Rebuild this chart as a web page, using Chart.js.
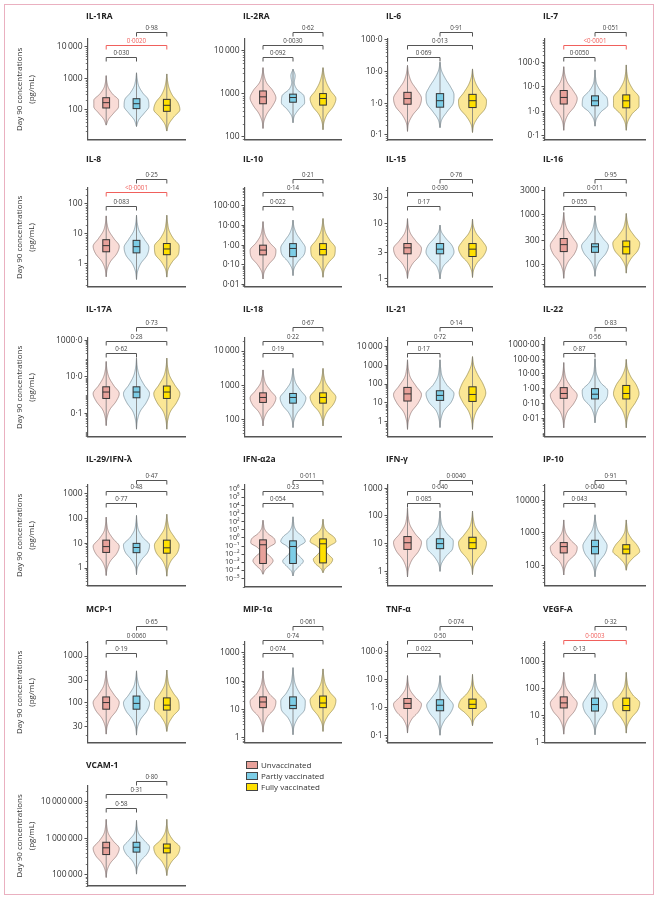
<!DOCTYPE html>
<html><head><meta charset="utf-8">
<script src="https://cdn.jsdelivr.net/npm/chart.js@4.4.1/dist/chart.umd.min.js"></script>
<style>
html,body{margin:0;padding:0;background:#fff;}
#fig{position:relative;width:659px;height:900px;overflow:hidden;font-family:"Open Sans",sans-serif;background:#fff;}
#frame{position:absolute;left:4px;top:4px;width:648px;height:889px;border:1.5px solid #eab0c0;}
canvas{position:absolute;}
.leg{position:absolute;left:246px;font-size:8px;color:#333;height:11px;line-height:11px;white-space:nowrap;}
.sw{display:inline-block;width:10px;height:6px;border:1px solid #444;vertical-align:middle;margin-right:3px;position:relative;top:-1px;}
</style></head>
<body><div id="fig"><div id="frame"></div></div>
<script>
// ---------------- DATA ----------------
const categories = ['Unvaccinated', 'Partly vaccinated', 'Fully vaccinated'];
const panelNames = ['IL-1RA','IL-2RA','IL-6','IL-7','IL-8','IL-10','IL-15','IL-16','IL-17A','IL-18','IL-21','IL-22',
  'IL-29/IFN-\u03bb','IFN-\u03b12a','IFN-\u03b3','IP-10','MCP-1','MIP-1\u03b1','TNF-\u03b1','VEGF-A','VCAM-1'];
const tickValues = [
  [100,1000,10000],[100,1000,10000],[0.1,1,10,100],[0.1,1,10,100],[1,10,100],[0.01,0.1,1,10,100],
  [1,3,10,30],[100,300,1000,3000],[0.1,10,1000],[100,1000,10000],[1,10,100,1000,10000],[0.01,0.1,1,10,100,1000],
  [1,10,100,1000],[1e-5,1e-4,1e-3,1e-2,1e-1,1,10,100,1e3,1e4,1e5,1e6],[1,10,100,1000],[100,1000,10000],
  [30,100,300,1000],[1,10,100,1000],[0.1,1,10,100],[1,10,100,1000],[100000,1000000,10000000]
];
const tickLabels = [
  ['100','1000','10\u2009000'],['100','1000','10\u2009000'],['0\u00b71','1\u00b70','10\u00b70','100\u00b70'],['0\u00b71','1\u00b70','10\u00b70','100\u00b70'],
  ['1','10','100'],['0\u00b701','0\u00b710','1\u00b700','10\u00b700','100\u00b700'],
  ['1','3','10','30'],['100','300','1000','3000'],['0\u00b71','10\u00b70','1000\u00b70'],['100','1000','10\u2009000'],
  ['1','10','100','1000','10\u2009000'],['0\u00b701','0\u00b710','1\u00b700','10\u00b700','100\u00b700','1000\u00b700'],
  ['1','10','100','1000'],['10\u207b\u2075','10\u207b\u2074','10\u207b\u00b3','10\u207b\u00b2','10\u207b\u00b9','10\u2070','10\u00b9','10\u00b2','10\u00b3','10\u2074','10\u2075','10\u2076'],
  ['1','10','100','1000'],['100','1000','10000'],['30','100','300','1000'],['1','10','100','1000'],
  ['0\u00b71','1\u00b70','10\u00b70','100\u00b70'],['1','10','100','1000'],['100\u2009000','1\u2009000\u2009000','10\u2009000\u2009000']
];
const axisMin = [10.4,84,0.07,0.069,0.17,0.0074,0.71,35,0.0053,31,0.16,0.00053,0.19,1e-6,0.31,23,13.6,0.67,0.053,1,50000];
const axisMax = [18000,18500,105,890,330,830,44,3330,1350,24000,27000,2750,2300,3.3e6,1300,30000,2000,2400,227,5300,2.7e7];

// five-number summaries [min, q1, median, q3, max] (pg/mL)
const unvaccinated = [
  [31,110,163,235,1200],[155,580,840,1150,4000],[0.13,0.93,1.4,2.2,15.5],[0.17,2.0,3.7,7.1,66],
  [0.37,2.5,4.0,6.3,39],[0.019,0.32,0.56,1.0,16],[1.0,2.8,3.6,4.3,12.2],[52,178,245,325,1080],
  [0.022,0.67,1.5,2.9,70],[65,315,440,600,2800],[0.4,12.6,30,66,1900],[0.0022,0.22,0.47,1.17,59],
  [0.5,4.3,7.4,13.5,115],[3.4e-5,7.2e-4,0.145,0.58,150],[0.63,6.2,10.8,18,196],[50,240,375,500,2500],
  [21,72,100,132,480],[1.6,11.7,18.5,28,230],[0.12,0.92,1.4,2.1,14],[2.1,19.5,30,50,400],
  [85000,360000,550000,780000,3.3e6]
];
const partlyVaccinated = [
  [28,105,151,218,1480],[210,630,810,970,3700],[0.17,0.75,1.2,2.0,19.6],[0.25,1.7,2.7,4.3,49],
  [0.30,2.3,3.7,6.0,41],[0.028,0.26,0.68,1.2,19],[0.98,2.8,3.4,4.3,9.3],[57,172,222,255,930],
  [0.014,0.73,1.5,2.9,107],[58,300,440,575,3100],[0.5,13.6,25,44,1900],[0.0048,0.2,0.42,1.0,108],
  [0.54,4.2,6.8,10,135],[2.1e-5,7.2e-4,0.089,0.44,400],[1.0,6.6,10,15,150],[44,225,375,590,3600],
  [20,72,96,138,480],[1.3,10.8,14,28,300],[0.1,0.76,1.2,1.9,14],[2.0,15,26,45,350],
  [105000,420000,570000,780000,3.1e6]
];
const fullyVaccinated = [
  [20,86,134,208,1360],[145,540,770,1000,4000],[0.12,0.73,1.2,1.9,12],[0.17,1.4,2.7,4.7,78],
  [0.36,2.0,3.1,4.7,41],[0.023,0.32,0.6,1.2,23],[1.04,2.5,3.4,4.3,12],[66,160,222,290,1030],
  [0.014,0.67,1.5,3.2,107],[65,300,440,600,3100],[0.4,12,28,71,2800],[0.0022,0.2,0.47,1.65,97],
  [0.47,4.0,6.6,13.5,150],[5.2e-5,8.5e-4,0.19,0.76,200],[0.77,6.6,10.8,17,150],[70,225,315,430,2500],
  [24,69,88,126,500],[1.7,11.7,17,30,270],[0.22,0.92,1.3,2.0,15.5],[2.3,15.5,24,45,400],
  [96000,400000,540000,700000,3.3e6]
];
// relative violin widths, evenly spaced (log scale) from min to max
const densityUnvaccinated = [
  [0,0.2,0.6,0.95,0.95,0.5,0.18,0.05,0],[0,0.08,0.33,0.75,1,0.75,0.28,0.08,0],[0,0.08,0.38,0.85,1,0.68,0.28,0.08,0],
  [0,0.08,0.33,0.8,1,0.7,0.28,0.08,0],[0,0.08,0.33,0.8,1,0.6,0.22,0.06,0],[0,0.1,0.43,0.9,1,0.55,0.2,0.06,0],
  [0,0.1,0.38,0.85,1,0.6,0.22,0.06,0],[0,0.08,0.33,0.8,1,0.65,0.25,0.07,0],[0,0.07,0.28,0.75,1,0.58,0.22,0.06,0],
  [0,0.08,0.33,0.8,1,0.6,0.22,0.07,0],[0,0.07,0.28,0.75,1,0.6,0.2,0.06,0],[0,0.07,0.28,0.75,1,0.55,0.18,0.05,0],
  [0,0.08,0.33,0.8,1,0.55,0.18,0.05,0],[0,0.18,0.55,0.78,0.55,0.2,0.45,0.95,0.85,0.4,0.13,0.05,0],
  [0,0.08,0.33,0.8,1,0.55,0.18,0.05,0],[0,0.08,0.33,0.85,1,0.55,0.18,0.05,0],[0,0.08,0.33,0.8,1,0.6,0.22,0.07,0],
  [0,0.08,0.33,0.85,1,0.5,0.18,0.05,0],[0,0.08,0.33,0.8,1,0.55,0.18,0.05,0],[0,0.08,0.33,0.8,1,0.6,0.2,0.06,0],
  [0,0.08,0.33,0.8,1,0.55,0.18,0.05,0]
];
const densityPartly = [
  [0,0.18,0.6,0.95,0.9,0.48,0.18,0.06,0],[0,0.1,0.45,0.9,0.85,0.3,0.1,0.17,0],[0,0.13,0.53,0.95,1,0.75,0.38,0.1,0],
  [0,0.1,0.43,0.95,0.9,0.43,0.13,0.04,0],[0,0.08,0.33,0.8,0.95,0.6,0.22,0.06,0],[0,0.08,0.38,0.85,0.95,0.65,0.28,0.08,0],
  [0,0.08,0.28,0.75,1,0.85,0.43,0.1,0],[0,0.08,0.33,0.8,1,0.6,0.22,0.07,0],[0,0.07,0.28,0.75,1,0.58,0.22,0.06,0],
  [0,0.08,0.33,0.8,1,0.6,0.22,0.07,0],[0,0.07,0.28,0.8,1,0.5,0.16,0.05,0],[0,0.08,0.33,0.85,0.95,0.43,0.13,0.04,0],
  [0,0.08,0.38,0.85,1,0.5,0.16,0.05,0],[0,0.13,0.5,0.8,0.5,0.2,0.45,0.95,0.75,0.3,0.1,0.04,0],
  [0,0.1,0.43,0.9,0.95,0.5,0.16,0.05,0],[0,0.08,0.33,0.75,0.9,0.6,0.22,0.07,0],[0,0.08,0.33,0.8,1,0.6,0.22,0.07,0],
  [0,0.08,0.38,0.9,0.95,0.5,0.18,0.06,0],[0,0.08,0.33,0.75,0.95,0.6,0.22,0.06,0],[0,0.08,0.33,0.75,0.9,0.6,0.22,0.06,0],
  [0,0.08,0.33,0.8,1,0.6,0.18,0.05,0]
];
const densityFully = [
  [0,0.16,0.55,1,0.85,0.43,0.18,0.06,0],[0,0.08,0.33,0.8,1,0.6,0.28,0.1,0],[0,0.1,0.43,0.9,1,0.63,0.28,0.08,0],
  [0,0.1,0.43,0.95,0.95,0.5,0.18,0.05,0],[0,0.1,0.43,0.9,0.95,0.5,0.18,0.06,0],[0,0.1,0.43,0.9,0.95,0.55,0.22,0.07,0],
  [0,0.08,0.33,0.8,1,0.7,0.28,0.07,0],[0,0.08,0.38,0.85,1,0.6,0.22,0.07,0],[0,0.07,0.28,0.75,1,0.6,0.22,0.06,0],
  [0,0.08,0.33,0.8,1,0.6,0.22,0.07,0],[0,0.07,0.28,0.7,0.95,0.75,0.38,0.1,0],[0,0.07,0.28,0.7,0.95,0.75,0.33,0.08,0],
  [0,0.08,0.33,0.8,0.95,0.6,0.22,0.07,0],[0,0.18,0.58,0.75,0.45,0.2,0.5,1,0.85,0.4,0.13,0.04,0],
  [0,0.08,0.38,0.85,1,0.6,0.2,0.06,0],[0,0.13,0.53,1,0.8,0.4,0.13,0.05,0],[0,0.13,0.48,0.95,0.9,0.5,0.18,0.06,0],
  [0,0.08,0.38,0.85,1,0.55,0.2,0.07,0],[0,0.13,0.53,1,0.85,0.4,0.13,0.04,0],[0,0.08,0.38,0.85,1,0.5,0.16,0.05,0],
  [0,0.1,0.38,0.85,1,0.5,0.16,0.04,0]
];
// p values: unvaccinated vs partly, unvaccinated vs fully, partly vs fully
const pUnvVsPartly = ['0\u00b7030','0\u00b7092','0\u00b7069','0\u00b70050','0\u00b7083','0\u00b7022','0\u00b717','0\u00b7055','0\u00b762','0\u00b719','0\u00b717','0\u00b787',
  '0\u00b777','0\u00b7054','0\u00b7085','0\u00b7043','0\u00b719','0\u00b7074','0\u00b7022','0\u00b713','0\u00b758'];
const pUnvVsFully = ['0\u00b70020','0\u00b70030','0\u00b7013','<0\u00b70001','<0\u00b70001','0\u00b714','0\u00b7030','0\u00b7011','0\u00b728','0\u00b722','0\u00b772','0\u00b756',
  '0\u00b748','0\u00b723','0\u00b7040','0\u00b70040','0\u00b70060','0\u00b774','0\u00b750','0\u00b70003','0\u00b731'];
const pPartlyVsFully = ['0\u00b798','0\u00b762','0\u00b791','0\u00b7051','0\u00b725','0\u00b721','0\u00b776','0\u00b795','0\u00b773','0\u00b767','0\u00b714','0\u00b783',
  '0\u00b747','0\u00b7011','0\u00b70040','0\u00b791','0\u00b765','0\u00b7061','0\u00b7074','0\u00b732','0\u00b780'];
const highlightedUnvVsFully = [true,false,false,true,true,false,false,false,false,false,false,false,
  false,false,false,false,false,false,false,true,false];

// ---------------- LAYOUT / STYLE ----------------
const colAxisX = [88, 245, 388, 545];
const colPlotW = [97, 96, 104, 100];
const rowTitleY = [17, 160, 310, 460, 610, 766];
const rowAxisTop = [39, 188, 338, 485, 642, 786];
const rowAxisBottom = [142, 289, 439, 588, 745, 888];
const rowBracketY = [[32,45,57],[179,192,206],[327,341,353],[480,491,503],[626,640,653],[781,794,808]];
const violinFill = ['#f9dcd7', '#dbeff8', '#fbe796'];
const violinLine = ['#9c8482', '#8396a0', '#a09458'];
const boxFill = ['#e8a19a', '#7ccde6', '#ffe000'];
const FONT = '"Open Sans", "DejaVu Sans", sans-serif';

Chart.defaults.font.family = FONT;
Chart.defaults.color = '#333';

function monotone(d) {
  const n = d.length, del = [], m = new Array(n);
  for (let k = 0; k < n - 1; k++) del.push(d[k + 1] - d[k]);
  m[0] = del[0]; m[n - 1] = del[n - 2];
  for (let k = 1; k < n - 1; k++) m[k] = del[k - 1] * del[k] <= 0 ? 0 : (del[k - 1] + del[k]) / 2;
  for (let k = 0; k < n - 1; k++) {
    if (del[k] === 0) { m[k] = 0; m[k + 1] = 0; continue; }
    const a = m[k] / del[k], b = m[k + 1] / del[k], s = a * a + b * b;
    if (s > 9) { const t = 3 / Math.sqrt(s); m[k] = t * a * del[k]; m[k + 1] = t * b * del[k]; }
  }
  return u => {
    const k = Math.min(n - 2, Math.max(0, Math.floor(u)));
    const t = u - k, t2 = t * t, t3 = t2 * t;
    return (2*t3 - 3*t2 + 1) * d[k] + (t3 - 2*t2 + t) * m[k] + (-2*t3 + 3*t2) * d[k + 1] + (t3 - t2) * m[k + 1];
  };
}

const violinPlugin = {
  id: 'violinPanel',
  afterDraw(chart, args, o) {
    const p = o.panel, row = o.row, col = o.col, top = o.canvasTop;
    const ctx = chart.ctx, xs = chart.scales.x, ys = chart.scales.y;
    const area = chart.chartArea;
    const unit = xs.getPixelForValue(1) - xs.getPixelForValue(0);
    const half = unit * 0.43, bw = unit * 0.112;
    ctx.save();
    // minor ticks
    const dec = ys.getPixelForValue(1) - ys.getPixelForValue(10);
    const lo = Math.floor(Math.log10(axisMin[p])), hi = Math.ceil(Math.log10(axisMax[p]));
    ctx.strokeStyle = '#555'; ctx.lineWidth = 0.8;
    for (let k = lo; k <= hi; k++) {
      for (let mm = 1; mm <= 9; mm++) {
        if (dec < 12 && mm > 1) continue;
        const v = mm * Math.pow(10, k);
        if (v < axisMin[p] || v > axisMax[p]) continue;
        if (tickValues[p].some(t => Math.abs(t - v) / v < 1e-6)) continue;
        const y = Math.round(ys.getPixelForValue(v)) + 0.5;
        ctx.beginPath(); ctx.moveTo(area.left - 2.2, y); ctx.lineTo(area.left, y); ctx.stroke();
      }
    }
    // violins + boxes
    const groups = [unvaccinated[p], partlyVaccinated[p], fullyVaccinated[p]];
    const dens = [densityUnvaccinated[p], densityPartly[p], densityFully[p]];
    groups.forEach((s, g) => {
      const cx = xs.getPixelForValue(g);
      const d = dens[g], f = monotone(d), n = d.length;
      const lmin = Math.log10(s[0]), lmax = Math.log10(s[4]);
      const N = 90, pts = [];
      for (let i = 0; i <= N; i++) {
        const u = i / N;
        const y = ys.getPixelForValue(Math.pow(10, lmin + u * (lmax - lmin)));
        pts.push([y, Math.max(0, f(u * (n - 1))) * half]);
      }
      ctx.beginPath();
      pts.forEach(([y, w], i) => i ? ctx.lineTo(cx + w, y) : ctx.moveTo(cx + w, y));
      for (let i = N; i >= 0; i--) ctx.lineTo(cx - pts[i][1], pts[i][0]);
      ctx.closePath();
      ctx.fillStyle = violinFill[g]; ctx.fill();
      ctx.strokeStyle = violinLine[g]; ctx.lineWidth = 0.8; ctx.stroke();
      // whisker line
      ctx.beginPath();
      ctx.moveTo(cx, ys.getPixelForValue(s[0])); ctx.lineTo(cx, ys.getPixelForValue(s[4]));
      ctx.strokeStyle = '#777'; ctx.lineWidth = 0.8; ctx.stroke();
      // box
      const yq1 = ys.getPixelForValue(s[1]), yq3 = ys.getPixelForValue(s[3]), ym = ys.getPixelForValue(s[2]);
      ctx.fillStyle = boxFill[g];
      ctx.fillRect(cx - bw, yq3, 2 * bw, yq1 - yq3);
      ctx.strokeStyle = '#333'; ctx.lineWidth = 1;
      ctx.strokeRect(cx - bw, yq3, 2 * bw, yq1 - yq3);
      ctx.beginPath(); ctx.moveTo(cx - bw, ym); ctx.lineTo(cx + bw, ym); ctx.stroke();
    });
    // brackets (top to bottom: partly-fully, unvacc-fully, unvacc-partly)
    const pairs = [[1, 2, pPartlyVsFully[p], false], [0, 2, pUnvVsFully[p], highlightedUnvVsFully[p]], [0, 1, pUnvVsPartly[p], false]];
    pairs.forEach(([a, b, txt, red], i) => {
      const y = rowBracketY[row][i] - top + 0.5;
      const x1 = xs.getPixelForValue(a), x2 = xs.getPixelForValue(b);
      ctx.strokeStyle = red ? '#f0605c' : '#555'; ctx.lineWidth = 1;
      ctx.beginPath(); ctx.moveTo(x1, y + 4); ctx.lineTo(x1, y); ctx.lineTo(x2, y); ctx.lineTo(x2, y + 4); ctx.stroke();
      ctx.fillStyle = red ? '#f0605c' : '#444';
      ctx.font = '6.2px ' + FONT; ctx.textAlign = 'center'; ctx.textBaseline = 'bottom';
      ctx.fillText(txt, (x1 + x2) / 2, y - 0.8);
    });
    // panel title
    ctx.fillStyle = '#222'; ctx.font = 'bold 8.5px ' + FONT;
    ctx.textAlign = 'left'; ctx.textBaseline = 'middle';
    ctx.fillText(panelNames[p], area.left - 2, rowTitleY[row] - top);
    // y-axis title (first column only)
    if (col === 0) {
      const cy = (area.top + area.bottom) / 2;
      ctx.fillStyle = '#333'; ctx.font = '8px ' + FONT; ctx.textAlign = 'center'; ctx.textBaseline = 'middle';
      [['Day 90 concentrations', 19.5], ['(pg/mL)', 32]].forEach(([t, x]) => {
        ctx.save(); ctx.translate(x, cy); ctx.rotate(-Math.PI / 2); ctx.fillText(t, 0, 0); ctx.restore();
      });
    }
    ctx.restore();
  }
};

const fig = document.getElementById('fig');
panelNames.forEach((name, p) => {
  const row = Math.floor(p / 4), col = p % 4;
  const canvasTop = rowTitleY[row] - 10;
  const left = colAxisX[col] - 88;
  const width = 88 + colPlotW[col] + 8;
  const height = rowAxisBottom[row] + 5 - canvasTop;
  const cv = document.createElement('canvas');
  cv.width = width; cv.height = height;
  cv.style.left = left + 'px'; cv.style.top = canvasTop + 'px';
  cv.style.width = width + 'px'; cv.style.height = height + 'px';
  fig.appendChild(cv);
  const dense = p === 13;
  new Chart(cv, {
    type: 'scatter',
    data: { datasets: [] },
    options: {
      responsive: false, animation: false, devicePixelRatio: 1,
      layout: { padding: { top: rowAxisTop[row] - canvasTop, bottom: 5, left: 0, right: 8 } },
      plugins: { legend: { display: false }, tooltip: { enabled: false },
        violinPanel: { panel: p, row: row, col: col, canvasTop: canvasTop } },
      scales: {
        x: { type: 'linear', min: -0.6, max: 2.6,
          ticks: { display: false }, grid: { display: false },
          border: { display: true, color: '#555', width: 1.4 },
          afterFit: s => { s.height = 0; } },
        y: { type: 'logarithmic', min: axisMin[p], max: axisMax[p],
          afterBuildTicks: s => { s.ticks = tickValues[p].map(v => ({ value: v })); },
          afterFit: s => { s.width = 88; },
          ticks: { autoSkip: false, padding: 2, color: '#333',
            font: { size: dense ? 7.2 : 8.5, family: FONT },
            callback: (v, i) => tickLabels[p][i] },
          grid: { display: true, drawOnChartArea: false, drawTicks: true, tickLength: 3.5, tickColor: '#555', tickWidth: 1 },
          border: { display: true, color: '#555', width: 1.2 } }
      }
    },
    plugins: [violinPlugin]
  });
});

// legend
const legendColors = boxFill;
categories.forEach((c, i) => {
  const d = document.createElement('div');
  d.className = 'leg';
  d.style.top = (759 + i * 11) + 'px';
  d.innerHTML = '<span class="sw" style="background:' + legendColors[i] + '"></span>' + c;
  fig.appendChild(d);
});
</script>
</body></html>
